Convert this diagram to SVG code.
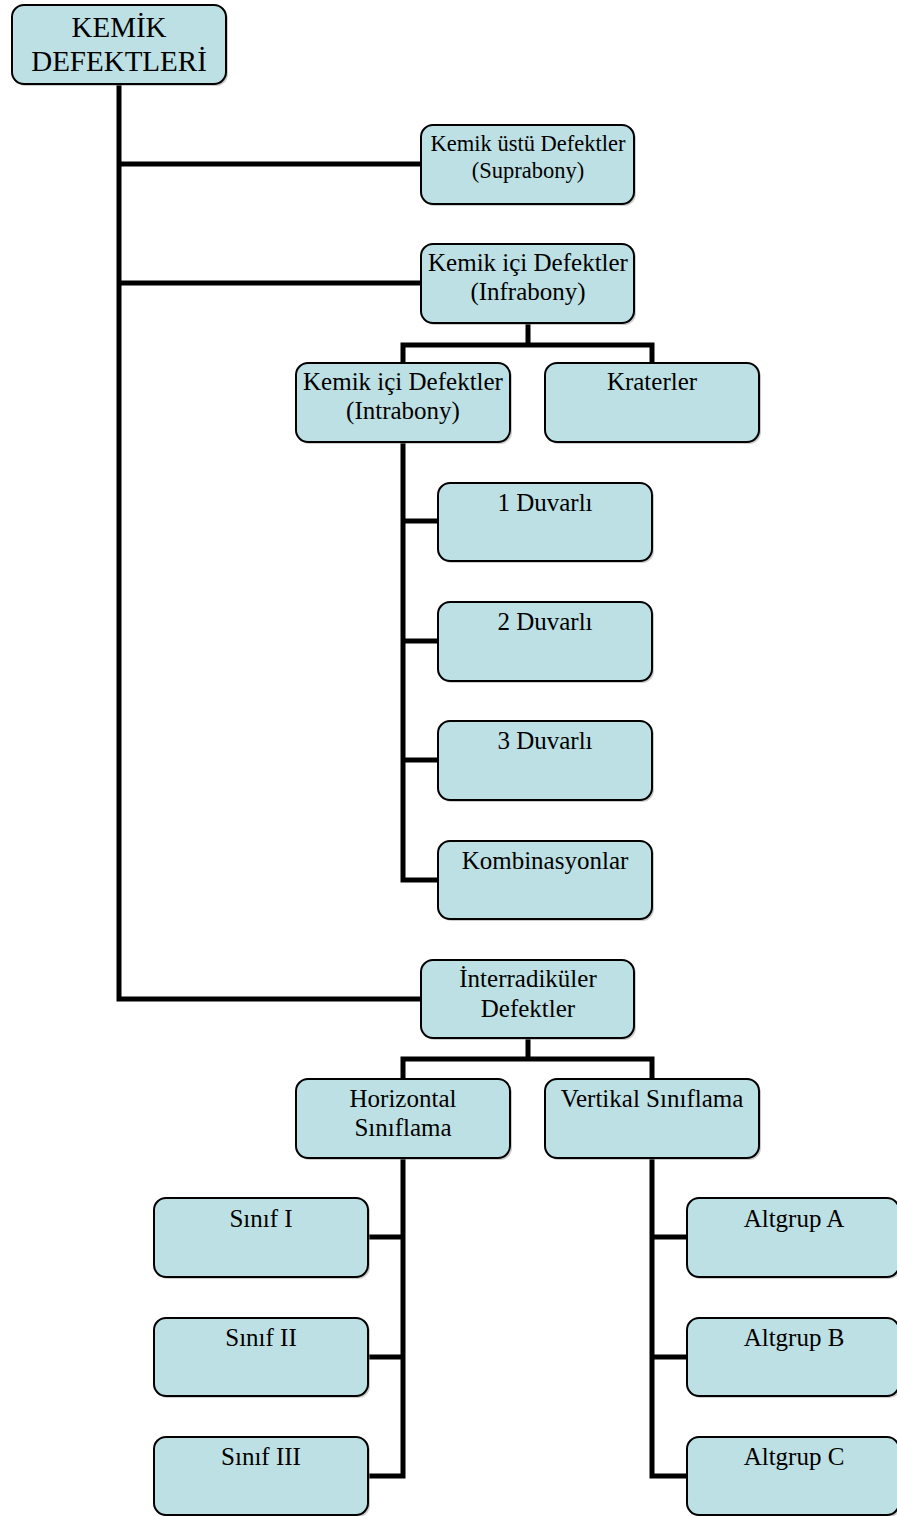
<svg xmlns="http://www.w3.org/2000/svg" width="897" height="1516" viewBox="0 0 897 1516">
<style>
.box{fill:#BCE0E3;stroke:#000;stroke-width:2}
.sh{fill:#9a9a9a;opacity:0.5}
.t{font-family:"Liberation Serif","Times New Roman",serif;font-size:25px;fill:#000;text-anchor:middle}
.ts{font-size:22.5px}
.tl{font-size:29px}
.c{fill:none;stroke:#000;stroke-width:5;stroke-linecap:square}
</style>
<rect width="897" height="1516" fill="#fff"/>
<g id="connectors">
<path class="c" d="M119 86 V999 M119 164 H419 M119 283 H419 M119 999 H419"/>
<path class="c" d="M528 325 V345 M403 361 V345 H652 V361"/>
<path class="c" d="M403 444 V880 M403 521 H436 M403 641 H436 M403 760 H436 M403 880 H436"/>
<path class="c" d="M528 1040 V1059 M403 1077 V1059 H652 V1077"/>
<path class="c" d="M403 1160 V1476 M403 1237 H370 M403 1357 H370 M403 1476 H370"/>
<path class="c" d="M652 1160 V1476 M652 1237 H685 M652 1357 H685 M652 1476 H685"/>
</g>
<g id="root"><rect class="sh" x="14" y="7" width="214" height="79" rx="12"/><rect class="box" x="12" y="5" width="214" height="79" rx="12"/><text class="t tl" x="119" y="37">KEMİK</text><text class="t tl" x="119" y="71">DEFEKTLERİ</text></g>
<g id="suprabony"><rect class="sh" x="423" y="127" width="213" height="79" rx="12"/><rect class="box" x="421" y="125" width="213" height="79" rx="12"/><text class="t ts" x="528" y="151">Kemik üstü Defektler</text><text class="t ts" x="528" y="178">(Suprabony)</text></g>
<g id="infrabony"><rect class="sh" x="423" y="246" width="213" height="79" rx="12"/><rect class="box" x="421" y="244" width="213" height="79" rx="12"/><text class="t" x="528" y="271">Kemik içi Defektler</text><text class="t" x="528" y="300">(Infrabony)</text></g>
<g id="intrabony"><rect class="sh" x="298" y="365" width="214" height="79" rx="12"/><rect class="box" x="296" y="363" width="214" height="79" rx="12"/><text class="t" x="403" y="390">Kemik içi Defektler</text><text class="t" x="403" y="419">(Intrabony)</text></g>
<g id="kraterler"><rect class="sh" x="547" y="365" width="214" height="79" rx="12"/><rect class="box" x="545" y="363" width="214" height="79" rx="12"/><text class="t" x="652" y="390">Kraterler</text></g>
<g id="duvar1"><rect class="sh" x="440" y="485" width="214" height="78" rx="12"/><rect class="box" x="438" y="483" width="214" height="78" rx="12"/><text class="t" x="545" y="511">1 Duvarlı</text></g>
<g id="duvar2"><rect class="sh" x="440" y="604" width="214" height="79" rx="12"/><rect class="box" x="438" y="602" width="214" height="79" rx="12"/><text class="t" x="545" y="630">2 Duvarlı</text></g>
<g id="duvar3"><rect class="sh" x="440" y="723" width="214" height="79" rx="12"/><rect class="box" x="438" y="721" width="214" height="79" rx="12"/><text class="t" x="545" y="749">3 Duvarlı</text></g>
<g id="kombinasyonlar"><rect class="sh" x="440" y="843" width="214" height="78" rx="12"/><rect class="box" x="438" y="841" width="214" height="78" rx="12"/><text class="t" x="545" y="869">Kombinasyonlar</text></g>
<g id="interradikuler"><rect class="sh" x="423" y="962" width="213" height="78" rx="12"/><rect class="box" x="421" y="960" width="213" height="78" rx="12"/><text class="t" x="528" y="987">İnterradiküler</text><text class="t" x="528" y="1017">Defektler</text></g>
<g id="horizontal"><rect class="sh" x="298" y="1081" width="214" height="79" rx="12"/><rect class="box" x="296" y="1079" width="214" height="79" rx="12"/><text class="t" x="403" y="1107">Horizontal</text><text class="t" x="403" y="1136">Sınıflama</text></g>
<g id="vertikal"><rect class="sh" x="547" y="1081" width="214" height="79" rx="12"/><rect class="box" x="545" y="1079" width="214" height="79" rx="12"/><text class="t" x="652" y="1107">Vertikal Sınıflama</text></g>
<g id="sinif1"><rect class="sh" x="156" y="1200" width="214" height="79" rx="12"/><rect class="box" x="154" y="1198" width="214" height="79" rx="12"/><text class="t" x="261" y="1227">Sınıf I</text></g>
<g id="sinif2"><rect class="sh" x="156" y="1320" width="214" height="78" rx="12"/><rect class="box" x="154" y="1318" width="214" height="78" rx="12"/><text class="t" x="261" y="1346">Sınıf II</text></g>
<g id="sinif3"><rect class="sh" x="156" y="1439" width="214" height="78" rx="12"/><rect class="box" x="154" y="1437" width="214" height="78" rx="12"/><text class="t" x="261" y="1465">Sınıf III</text></g>
<g id="altgrupA"><rect class="sh" x="689" y="1200" width="212" height="79" rx="12"/><rect class="box" x="687" y="1198" width="212" height="79" rx="12"/><text class="t" x="794" y="1227">Altgrup A</text></g>
<g id="altgrupB"><rect class="sh" x="689" y="1320" width="212" height="78" rx="12"/><rect class="box" x="687" y="1318" width="212" height="78" rx="12"/><text class="t" x="794" y="1346">Altgrup B</text></g>
<g id="altgrupC"><rect class="sh" x="689" y="1439" width="212" height="78" rx="12"/><rect class="box" x="687" y="1437" width="212" height="78" rx="12"/><text class="t" x="794" y="1465">Altgrup C</text></g>
</svg>
